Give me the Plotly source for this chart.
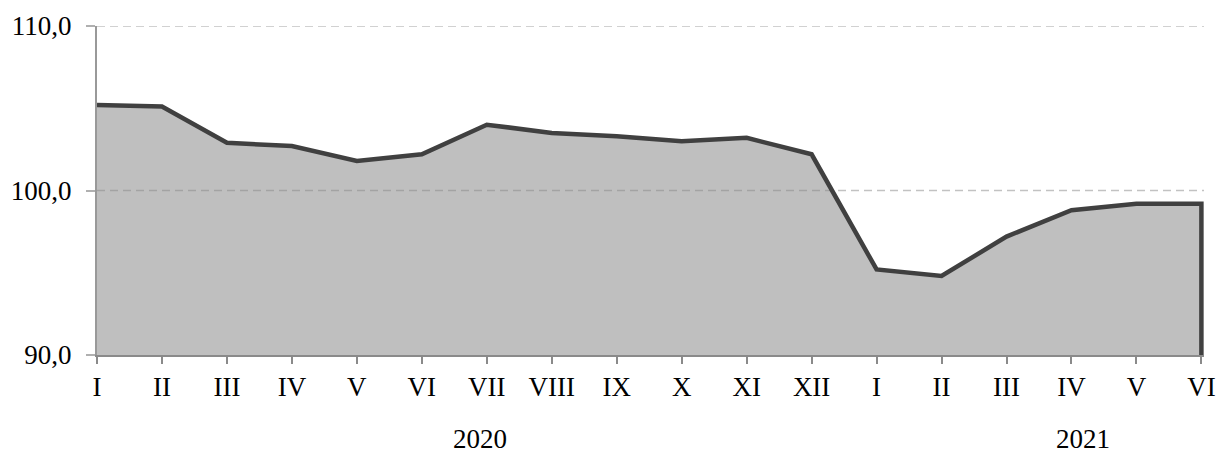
import plotly.graph_objects as go

months = ["I", "II", "III", "IV", "V", "VI", "VII", "VIII", "IX", "X", "XI", "XII",
          "I", "II", "III", "IV", "V", "VI"]
values = [105.2, 105.1, 102.9, 102.7, 101.8, 102.2, 104.0, 103.5, 103.3, 103.0, 103.2, 102.2,
          95.2, 94.8, 97.2, 98.8, 99.2, 99.2]
y_ticks = [90, 100, 110]
y_tick_labels = ["90,0", "100,0", "110,0"]
years = ["2020", "2021"]
year_pos = [5.9, 15.18]

idx = list(range(len(months)))
y_min, y_max = y_ticks[0], y_ticks[-1]

fig = go.Figure()
fig.add_trace(go.Scatter(
    x=idx, y=values, mode="lines", fill="tozeroy",
    fillcolor="rgba(139,139,139,0.55)", line=dict(width=0),
    hoverinfo="skip", showlegend=False))
fig.add_trace(go.Scatter(
    x=idx + [idx[-1]], y=values + [y_min], mode="lines",
    line=dict(color="#404040", width=4.5), showlegend=False))

font = dict(family="Liberation Serif, Times New Roman, serif", size=27, color="black")

for yr, xp in zip(years, year_pos):
    fig.add_annotation(x=xp, xref="x", y=-0.305, yref="paper", text=yr,
                       showarrow=False, font=font, xanchor="center", yanchor="bottom",
                       borderpad=0)

# dashed gridlines (drawn below the semi-transparent area so they show through)
for yv in y_ticks[1:]:
    fig.add_shape(type="line", xref="paper", yref="y", x0=0, x1=1, y0=yv, y1=yv,
                  layer="below", line=dict(color="#c2c2c2", width=1.5, dash="8px,5px"))

fig.update_layout(
    width=1216, height=457,
    margin=dict(l=97, r=12, t=26, b=102),
    paper_bgcolor="white", plot_bgcolor="white",
    font=font,
    xaxis=dict(range=[0, 17.04], tickvals=idx, ticktext=months,
               showgrid=False, zeroline=False, automargin=False,
               showline=True, linecolor="#8a8a8a", linewidth=2,
               ticks="outside", ticklen=7, tickwidth=2, tickcolor="#8a8a8a",
               tickfont=font),
    yaxis=dict(range=[y_min, y_max], tickvals=y_ticks, ticktext=y_tick_labels,
               showgrid=False, zeroline=False, automargin=False,
               showline=True, linecolor="#999999", linewidth=2,
               ticks="outside", ticklen=9, tickwidth=2, tickcolor="#b0b0b0",
               ticklabelstandoff=9, tickfont=font),
)

fig.write_html("out.html", config={"displayModeBar": False},
               post_script="document.body.style.margin='0';")
